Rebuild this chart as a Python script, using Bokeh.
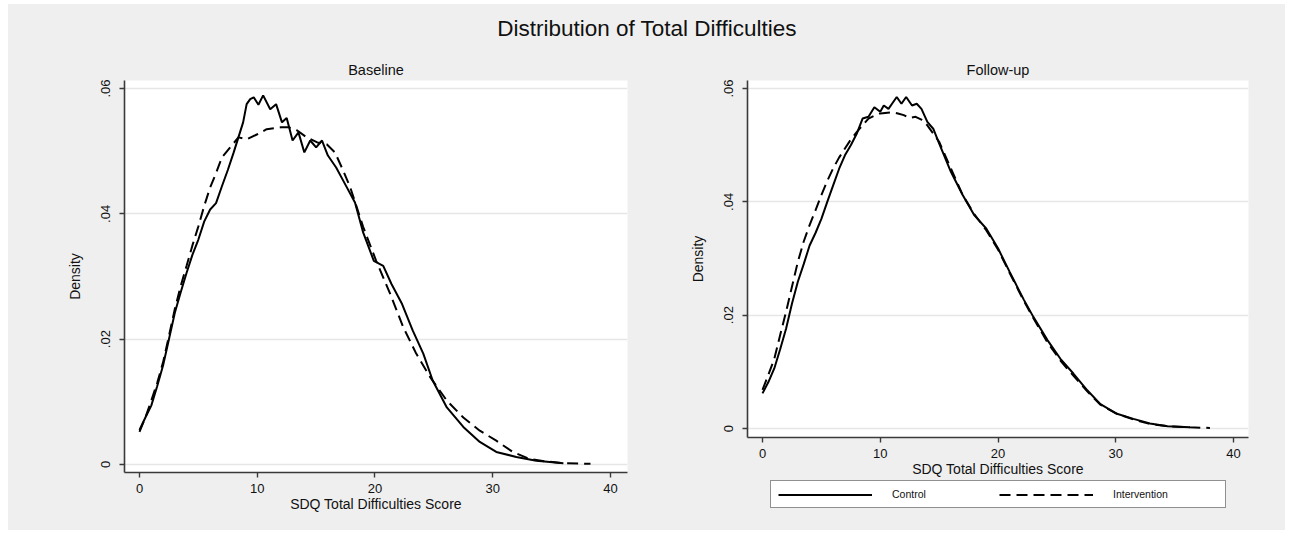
from bokeh.plotting import figure
from bokeh.layouts import column, row, Spacer
from bokeh.models import (Range1d, FixedTicker, CustomJSTickFormatter, Legend, LegendItem)
from bokeh.embed import file_html
from bokeh.resources import INLINE

# ---------------- data ----------------
title_text = "Distribution of Total Difficulties"
panel_titles = ["Baseline", "Follow-up"]
x_title = "SDQ Total Difficulties Score"
y_title = "Density"
series_names = ["Control", "Intervention"]
x_ticks = [0, 10, 20, 30, 40]
y_ticks = [0, 0.02, 0.04, 0.06]

base_ctrl_x = [0, 0.5, 1, 1.5, 2, 2.5, 3, 3.5, 4, 4.5, 5, 5.5, 6, 6.5, 7, 7.5, 8, 8.4, 8.8,
               9.1, 9.4, 9.7, 10.1, 10.5, 11.1, 11.6, 12.1, 12.5, 13.0, 13.5, 14.0, 14.5,
               15.0, 15.5, 16.0, 16.7, 17.3, 18.3, 19.0, 19.9, 20.7, 21.4, 22.3, 23.2,
               24.1, 24.9, 26.1, 27.5, 28.9, 30.3, 32.0, 33.7, 36.0]
base_ctrl_y = [0.0055, 0.0075, 0.0094, 0.0125, 0.0158, 0.0200, 0.0242, 0.0275, 0.0306,
               0.0335, 0.0359, 0.0388, 0.0407, 0.0417, 0.0444, 0.0470, 0.0498, 0.0522,
               0.0546, 0.0575, 0.0583, 0.0586, 0.0574, 0.0589, 0.0567, 0.0575, 0.0546,
               0.0553, 0.0517, 0.0530, 0.0498, 0.0517, 0.0506, 0.0517, 0.0493, 0.0474,
               0.0453, 0.0418, 0.0370, 0.0325, 0.0317, 0.0288, 0.0256, 0.0214, 0.0177,
               0.0134, 0.0091, 0.0060, 0.0036, 0.0020, 0.0012, 0.0006, 0.0002]

base_int_x = [0, 0.5, 1, 1.5, 2, 2.5, 3, 3.5, 4, 4.5, 5, 5.5, 6, 6.5, 7, 7.7, 8.4, 9.1,
              10.0, 10.8, 12.0, 12.7, 13.4, 14.2, 15.1, 15.9, 16.6, 17.3, 17.9, 19.0,
              20.1, 21.3, 22.4, 23.5, 24.7, 26.1, 27.5, 28.9, 30.3, 31.7, 33.1, 34.5,
              36.0, 38.3]
base_int_y = [0.0052, 0.0075, 0.0102, 0.0130, 0.0163, 0.0205, 0.0248, 0.0285, 0.0317,
              0.0350, 0.0380, 0.0413, 0.0442, 0.0465, 0.0490, 0.0506, 0.0522, 0.0519,
              0.0527, 0.0535, 0.0538, 0.0538, 0.0533, 0.0522, 0.0514, 0.0511, 0.0498,
              0.0469, 0.0442, 0.0379, 0.0325, 0.0272, 0.0219, 0.0177, 0.0139, 0.0102,
              0.0075, 0.0054, 0.0038, 0.0020, 0.0009, 0.0005, 0.0002, 0.0001]

fu_ctrl_x = [0, 0.5, 1, 1.5, 2, 2.5, 3, 3.5, 4, 4.5, 5, 5.5, 6, 6.5, 7, 7.5, 8, 8.5, 9,
             9.5, 10, 10.3, 10.7, 11, 11.4, 11.8, 12.2, 12.7, 13.1, 13.5, 14, 14.5, 15,
             16, 17, 18, 19, 20, 21, 22.2, 23.0, 24.2, 25.3, 26.4, 27.6, 28.7, 30.1,
             31.5, 32.9, 34.4, 36.3]
fu_ctrl_y = [0.0062, 0.0082, 0.0106, 0.0140, 0.0176, 0.0220, 0.0259, 0.0290, 0.0323,
             0.0345, 0.0370, 0.0400, 0.0429, 0.0458, 0.0482, 0.0500, 0.0520, 0.0547,
             0.0550, 0.0567, 0.0559, 0.0570, 0.0564, 0.0573, 0.0585, 0.0573, 0.0585,
             0.0570, 0.0573, 0.0564, 0.0541, 0.0529, 0.0503, 0.0453, 0.0412, 0.0376,
             0.0353, 0.0318, 0.0276, 0.0227, 0.0197, 0.0156, 0.0123, 0.0097, 0.0067,
             0.0043, 0.0026, 0.0017, 0.0009, 0.0004, 0.0002]

fu_int_x = [0, 0.5, 1, 1.5, 2, 2.5, 3, 3.5, 4, 4.5, 5, 5.5, 6, 6.5, 7, 7.5, 8, 8.5, 9,
            9.5, 10, 11, 11.5, 12, 12.5, 13, 13.5, 14, 15, 16, 17, 18, 19, 20, 21, 22.2,
            23.0, 24.2, 25.3, 25.9, 27.6, 28.7, 30.1, 31.5, 32.9, 34.4, 36.3, 38.0]
fu_int_y = [0.0068, 0.0095, 0.0123, 0.0165, 0.0206, 0.0250, 0.0294, 0.0330, 0.0359,
            0.0385, 0.0412, 0.0437, 0.0459, 0.0478, 0.0494, 0.0510, 0.0523, 0.0535,
            0.0547, 0.0552, 0.0556, 0.0558, 0.0556, 0.0553, 0.0548, 0.0550, 0.0545,
            0.0535, 0.0506, 0.0459, 0.0412, 0.0378, 0.0350, 0.0316, 0.0274, 0.0225,
            0.0195, 0.0152, 0.0120, 0.0105, 0.0065, 0.0042, 0.0026, 0.0016, 0.0008,
            0.0004, 0.0002, 0.0001]

# ---------------- styling ----------------
FONT = "Liberation Sans"
BG = "#efefef"
AX = "#3a3a3a"
DASH = "11 6"

yfmt = CustomJSTickFormatter(code="""
if (tick == 0) { return '0'; }
return tick.toFixed(2).replace(/^0/, '');
""")


def make_panel(title, fw, fh, mbl, mbr, mbt, mbb, xr, yr, cx, cy, ix, iy):
    p = figure(frame_width=fw, frame_height=fh, min_border_left=mbl, min_border_right=mbr,
               min_border_top=mbt, min_border_bottom=mbb, x_range=Range1d(*xr),
               y_range=Range1d(*yr), output_backend="svg", toolbar_location=None, tools="",
               title=title)
    p.background_fill_color = "white"
    p.border_fill_color = BG
    p.outline_line_color = None
    p.title.align = "center"
    p.title.text_font = FONT
    p.title.text_font_style = "normal"
    p.title.text_font_size = "14.5px"
    p.title.text_color = "#111111"
    p.title.standoff = 6

    for ax in (p.xaxis[0], p.yaxis[0]):
        ax.axis_line_color = AX
        ax.axis_line_width = 1.6
        ax.major_tick_line_color = AX
        ax.major_tick_line_width = 1.4
        ax.major_tick_in = 0
        ax.major_tick_out = 5
        ax.minor_tick_line_color = None
        ax.major_label_text_font = FONT
        ax.major_label_text_font_size = "13px"
        ax.major_label_text_color = "#111111"
        ax.axis_label_text_font = FONT
        ax.axis_label_text_font_size = "14px"
        ax.axis_label_text_font_style = "normal"
        ax.axis_label_text_color = "#111111"

    p.xaxis.ticker = FixedTicker(ticks=x_ticks)
    p.xaxis.axis_label = x_title
    p.xaxis.major_label_standoff = 6
    p.xaxis.axis_label_standoff = 0

    p.yaxis.ticker = FixedTicker(ticks=y_ticks)
    p.yaxis.formatter = yfmt
    p.yaxis.major_label_orientation = "vertical"
    p.yaxis.axis_label = y_title
    p.yaxis.major_label_standoff = 9
    p.yaxis.axis_label_standoff = 16

    p.xgrid.visible = False
    p.ygrid.grid_line_color = "#e6e6e6"
    p.ygrid.grid_line_width = 1.6

    r1 = p.line(cx, cy, line_color="black", line_width=2)
    r2 = p.line(ix, iy, line_color="black", line_width=2, line_dash=DASH)
    return p, r1, r2


# title band
t = figure(width=1277, height=52, min_border_left=0, min_border_right=0, min_border_top=38,
           min_border_bottom=0, output_backend="svg", toolbar_location=None, tools="",
           title=title_text)
t.axis.visible = False
t.grid.visible = False
t.outline_line_color = None
t.background_fill_color = BG
t.border_fill_color = BG
t.title.align = "center"
t.title.offset = 4
t.title.text_font = FONT
t.title.text_font_style = "normal"
t.title.text_font_size = "22.5px"
t.title.text_color = "#111111"
t.title.standoff = 4

left, _, _ = make_panel(panel_titles[0], 503, 392, 116, 19, 24, 58,
                        (-1.274, 41.444), (-0.001277, 0.061277),
                        base_ctrl_x, base_ctrl_y, base_int_x, base_int_y)
right, _, _ = make_panel(panel_titles[1], 501, 357, 101, 37, 24, 43,
                         (-1.274, 41.274), (-0.001588, 0.061412),
                         fu_ctrl_x, fu_ctrl_y, fu_int_x, fu_int_y)

# legend strip under the right panel (key only: its lines are not shown)
lg = figure(width=639, height=50, min_border_left=0, min_border_right=0, min_border_top=0,
            min_border_bottom=0, output_backend="svg", toolbar_location=None, tools="")
lg.axis.visible = False
lg.grid.visible = False
lg.outline_line_color = None
lg.background_fill_color = BG
lg.border_fill_color = BG
kc = lg.line(fu_ctrl_x, fu_ctrl_y, line_color="black", line_width=2, visible=False)
ki = lg.line(fu_int_x, fu_int_y, line_color="black", line_width=2, line_dash=DASH,
             visible=False)

legend = Legend(items=[LegendItem(label=series_names[0], renderers=[kc]),
                       LegendItem(label=series_names[1], renderers=[ki])],
                orientation="horizontal", location=(23, 22))
legend.glyph_width = 94
legend.glyph_height = 11
legend.label_standoff = 20
legend.label_width = 105
legend.spacing = 2
legend.padding = 7
legend.margin = 0
legend.click_policy = "none"
legend.inactive_fill_alpha = 0
legend.label_text_font = FONT
legend.label_text_font_size = "10.5px"
legend.label_text_color = "#111111"
legend.border_line_color = "#222222"
legend.border_line_width = 1.5
legend.background_fill_color = "white"
legend.background_fill_alpha = 1
lg.add_layout(legend, "center")

inner = column(t, row(left, column(right, lg)), styles={"background-color": BG})
layout = column(Spacer(height=4), row(Spacer(width=8), inner))

open("out.html", "w").write(file_html(layout, INLINE))
